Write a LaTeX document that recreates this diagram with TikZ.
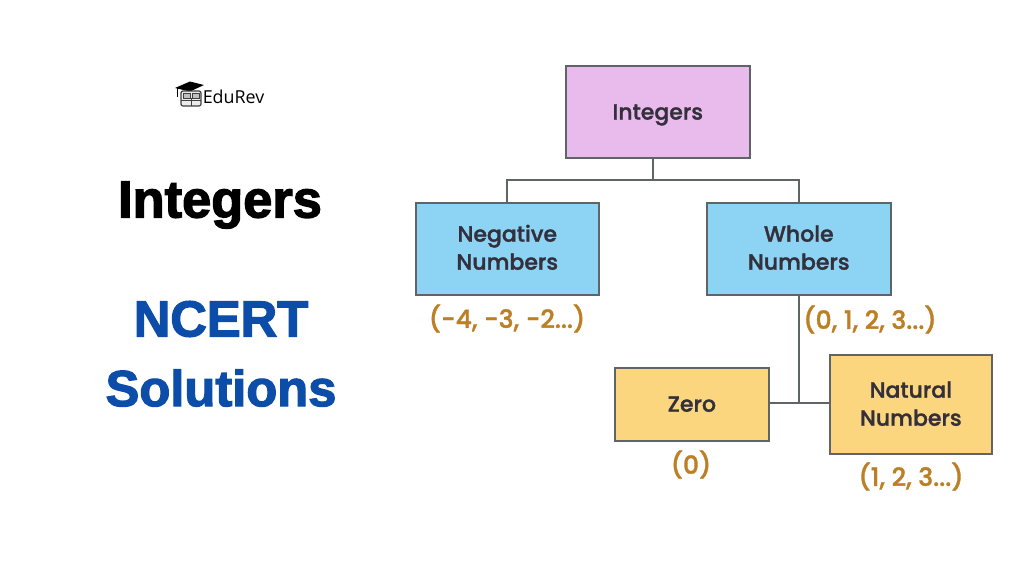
\documentclass[tikz,border=0pt]{standalone}
\usepackage{fontspec}
\setmainfont{Poppins}[BoldFont={Poppins Medium},BoldFeatures={FakeBold=1.3}]
\newfontfamily\titlefont{Liberation Sans}[BoldFeatures={FakeBold=2.4}]
\newfontfamily\logofont{Open Sans}
\definecolor{lineC}{HTML}{5F6466}
\definecolor{pinkC}{HTML}{E9BBEC}
\definecolor{blueC}{HTML}{8DD3F3}
\definecolor{yelC}{HTML}{FCD67E}
\definecolor{orangeC}{HTML}{BD7F24}
\definecolor{navyC}{HTML}{0B4DA8}
\definecolor{inkC}{HTML}{33303C}
\newcommand{\twolines}[2]{\begin{tabular}{@{}c@{}}#1\\#2\end{tabular}}
\newcommand{\lowered}[2]{\raisebox{-#1}[\height][\depth]{#2}}
\tikzset{
 x=0.75pt,y=-0.75pt,
 boxa/.style={draw=lineC,line width=1.5pt,minimum width=#1,align=center,inner sep=0pt,font=\fontsize{16.5}{21}\selectfont\bfseries,text=inkC,anchor=north west},
 conn/.style={draw=lineC,line width=1.4pt},
 vals/.style={text=orangeC,font=\fontsize{18.8}{22}\selectfont\bfseries,inner sep=0pt},
 heading/.style={inner sep=0pt},
}
\begin{document}
\begin{tikzpicture}
\useasboundingbox (0,0) rectangle (1024,576);
\fill[white] (0,0) rectangle (1024,576);
% boxes
\node[boxa=137.7pt,fill=pinkC,minimum height=69pt] (int) at (565,65) {\lowered{2.2pt}{Integers}};
\node[boxa=137.7pt,fill=blueC,minimum height=69pt] (neg) at (414.5,202) {\lowered{0.8pt}{\twolines{Negative}{Numbers}}};
\node[boxa=137.7pt,fill=blueC,minimum height=69pt] (whole) at (706,202) {\lowered{0.8pt}{\twolines{Whole}{Numbers}}};
\node[boxa=116pt,fill=yelC,minimum height=55pt] (zero) at (613.5,366.5) {Zero};
\node[boxa=122pt,fill=yelC,minimum height=74.5pt] (nat) at (828.5,354) {\lowered{1.1pt}{\twolines{Natural}{Numbers}}};
% connectors
\coordinate (bus) at (653,180);
\coordinate (join) at (798.5,403);
\draw[conn] (bus |- int.south) -- (bus);
\draw[conn] (neg.north) -- (neg.north |- bus) -- (whole.north |- bus) -- (whole.north);
\draw[conn] (whole.south) -- (whole.south |- join);
\draw[conn] (zero.east |- join) -- (nat.west |- join);
% values
\node[vals] (v1) at (507,318.5) {(−4, −3, −2...)};
\node[vals] (v2) at (870,319.5) {(0, 1, 2, 3...)};
\node[vals] (v3) at (691,464.5) {(0)};
\node[vals] (v4) at (911,476.5) {(1, 2, 3...)};
% headings
\node[heading,font=\fontsize{39.3}{44}\titlefont\bfseries] (t1) at (220,205) {Integers};
\node[heading,text=navyC,font=\fontsize{38}{44}\titlefont\bfseries] (t2) at (221,319) {NCERT};
\node[heading,text=navyC,font=\fontsize{38}{44}\titlefont\bfseries] (t3) at (221,388) {Solutions};
% logo
\node[inner sep=0pt,anchor=west,font=\logofont\fontsize{13.4}{15}\selectfont] (logo) at (202.5,96.5) {EduRev};
\fill[black] (175,88) -- (190,81.5) -- (204,85) -- (190,91.5) -- cycle;
\draw[black,line width=0.5pt] (177,88) -- (177,97);
\draw[black!75,line width=0.9pt,fill=black!8,rounded corners=1.5pt] (181,91) rectangle (201,106);
\draw[black!75,line width=0.7pt,fill=black!25] (183,93) rectangle (190,98) (192,93) rectangle (199,98);
\draw[black!75,line width=0.6pt] (181,100) -- (201,100) (191,98) -- (191,106);
\end{tikzpicture}
\end{document}
